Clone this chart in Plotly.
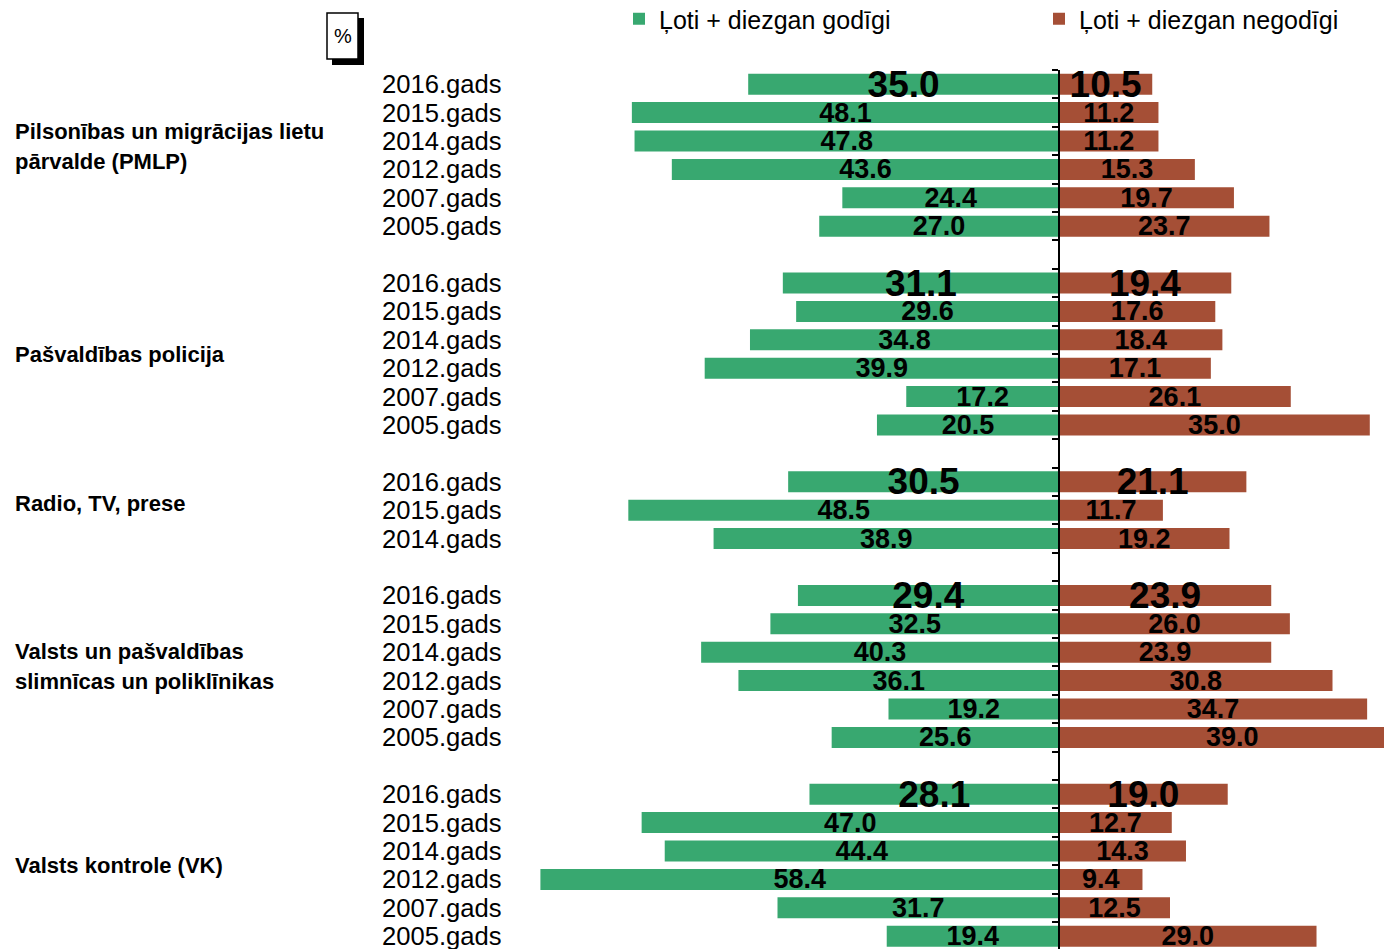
import plotly.graph_objects as go

# ── data ────────────────────────────────────────────────────────────────
group_labels = [
    ["Pilsonības un migrācijas lietu", "pārvalde (PMLP)"],
    ["Pašvaldības policija"],
    ["Radio, TV, prese"],
    ["Valsts un pašvaldības", "slimnīcas un poliklīnikas"],
    ["Valsts kontrole (VK)"],
]

years_long = ["2016.gads", "2015.gads", "2014.gads", "2012.gads", "2007.gads", "2005.gads"]
years_short = ["2016.gads", "2015.gads", "2014.gads"]

honest_pmlp = [35.0, 48.1, 47.8, 43.6, 24.4, 27.0]
dishonest_pmlp = [10.5, 11.2, 11.2, 15.3, 19.7, 23.7]

honest_police = [31.1, 29.6, 34.8, 39.9, 17.2, 20.5]
dishonest_police = [19.4, 17.6, 18.4, 17.1, 26.1, 35.0]

honest_media = [30.5, 48.5, 38.9]
dishonest_media = [21.1, 11.7, 19.2]

honest_hospitals = [29.4, 32.5, 40.3, 36.1, 19.2, 25.6]
dishonest_hospitals = [23.9, 26.0, 23.9, 30.8, 34.7, 39.0]

honest_vk = [28.1, 47.0, 44.4, 58.4, 31.7, 19.4]
dishonest_vk = [19.0, 12.7, 14.3, 9.4, 12.5, 29.0]

groups = [
    (group_labels[0], years_long, honest_pmlp, dishonest_pmlp),
    (group_labels[1], years_long, honest_police, dishonest_police),
    (group_labels[2], years_short, honest_media, dishonest_media),
    (group_labels[3], years_long, honest_hospitals, dishonest_hospitals),
    (group_labels[4], years_long, honest_vk, dishonest_vk),
]

GREEN = "#38A870"
RED = "#A54F36"
FONT = "Liberation Sans, Arial, sans-serif"

# page body adds an 8px margin, so the figure is laid out 8px smaller
W, H = 1384, 941
TOP = 62
ZERO_PX = 1051
PX_PER_UNIT = 8.88
ROW_PX = 28.4

# ── build rows (one blank row between institutions) ─────────────────────
rows, year_text, honest, dishonest, label_size = [], [], [], [], []
group_centres = []
row = 0
for lines, years, h_vals, d_vals in groups:
    start = row
    for i, yr in enumerate(years):
        rows.append(row)
        year_text.append(yr)
        honest.append(h_vals[i])
        dishonest.append(d_vals[i])
        label_size.append(37 if i == 0 else 27)
        row += 1
    group_centres.append((lines, (start + row - 1) / 2))
    row += 1

fig = go.Figure()
for name, vals, sign, colour in [
    ("Ļoti + diezgan godīgi", honest, -1, GREEN),
    ("Ļoti + diezgan negodīgi", dishonest, 1, RED),
]:
    fig.add_trace(go.Bar(
        name=name,
        y=rows, x=[sign * v for v in vals], orientation="h",
        marker=dict(color=colour, line_width=0), width=0.74,
        text=[f"{v:.1f}" for v in vals],
        textposition="inside", insidetextanchor="middle", textangle=0,
        constraintext="none",
        textfont=dict(family=FONT, size=label_size, color="black", weight="bold"),
        hoverinfo="skip",
    ))

# year labels beside each bar pair
for r, yr in zip(rows, year_text):
    fig.add_annotation(x=496 / W, xref="paper", xanchor="right", y=r, yref="y",
                       text=yr, showarrow=False,
                       font=dict(family=FONT, size=25.6, color="black"))

# institution names (one annotation per line, 30px line pitch)
for lines, centre in group_centres:
    if "PMLP" in lines[-1]:
        centre -= 0.3
    if lines[0].startswith("Radio"):
        centre -= 0.25
    n = len(lines)
    for k, line in enumerate(lines):
        fig.add_annotation(x=5 / W, xref="paper", xanchor="left", align="left",
                           y=centre, yref="y", yshift=-(k - (n - 1) / 2) * 30,
                           text=line, showarrow=False,
                           font=dict(family=FONT, size=22, color="black", weight="bold"))

# "%" box with drop shadow
def py(p):
    return (H - p) / (H - TOP)

fig.add_shape(type="rect", xref="paper", yref="paper",
              x0=324 / W, x1=356 / W, y0=py(57), y1=py(10),
              fillcolor="black", line_width=0)
fig.add_shape(type="rect", xref="paper", yref="paper",
              x0=319 / W, x1=350 / W, y0=py(51), y1=py(5),
              fillcolor="white", line=dict(color="black", width=1.5))
fig.add_annotation(x=334.5 / W, xref="paper", xanchor="center",
                   y=py(28), yref="paper", yanchor="middle",
                   text="%", showarrow=False,
                   font=dict(family=FONT, size=20, color="black"))

n_rows = (H - TOP) / ROW_PX

fig.update_layout(
    width=W, height=H,
    margin=dict(l=0, r=0, t=TOP, b=0),
    plot_bgcolor="white", paper_bgcolor="white",
    barmode="relative",
    showlegend=True,
    legend=dict(orientation="h", xref="container", yref="container",
                x=611 / W, y=1 - 11 / H, xanchor="left", yanchor="middle",
                entrywidth=375, font=dict(family=FONT, size=25, color="black"),
                bgcolor="rgba(0,0,0,0)"),
    xaxis=dict(visible=False,
               range=[-ZERO_PX / PX_PER_UNIT, (W - ZERO_PX) / PX_PER_UNIT]),
    yaxis=dict(range=[n_rows - 0.5, -0.5], anchor="free", position=ZERO_PX / W,
               showline=True, linecolor="black", linewidth=2,
               ticks="outside", ticklen=6, tickwidth=2, tickcolor="black",
               tickmode="linear", tick0=-0.5, dtick=1,
               showticklabels=False, showgrid=False, zeroline=False),
)

fig.write_html("out.html")
